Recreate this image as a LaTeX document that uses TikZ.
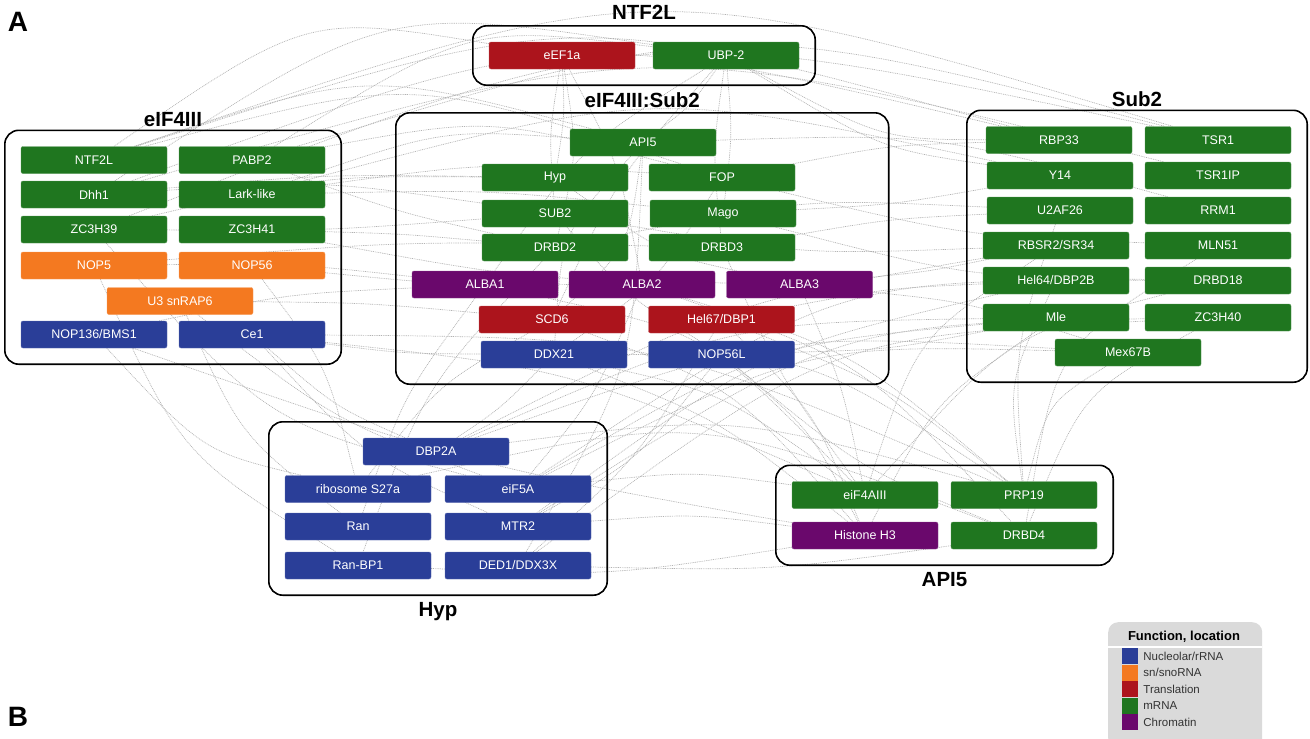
\documentclass[tikz,border=0pt]{standalone}
\usepackage{fontspec}
\setmainfont{Liberation Sans}
\usetikzlibrary{positioning,fit,calc}

\pgfdeclarelayer{background}
\pgfsetlayers{background,main}

\definecolor{cGreen}{RGB}{31,118,31}
\definecolor{cOrange}{RGB}{244,121,32}
\definecolor{cRed}{RGB}{172,20,28}
\definecolor{cBlue}{RGB}{42,62,152}
\definecolor{cPurple}{RGB}{106,8,108}
\definecolor{cEdge}{RGB}{178,178,178}
\definecolor{cLegend}{RGB}{218,218,218}

\begin{document}
\begin{tikzpicture}[x=1pt, y=-1pt,
    every node/.style={font=\fontsize{12.5}{14}\selectfont},
    prot/.style={rectangle, rounded corners=2pt, minimum width=146pt, minimum height=27pt,
      inner sep=0pt, text=white, fill=#1, draw=#1!75!white},
    grp/.style={draw, line width=1.6pt, rounded corners=14pt, inner sep=16pt},
    grptitle/.style={font=\bfseries\fontsize{20.5}{22}\selectfont, inner sep=0pt, text height=15pt, text depth=0pt},
    edge/.style={draw=cEdge, dash pattern=on 0.9pt off 0.9pt, line width=0.7pt},
    swatch/.style={rectangle, minimum size=16pt, inner sep=0pt, fill=#1},
    legtext/.style={font=\fontsize{11.5}{13}\selectfont, text=black!80, inner sep=0pt, anchor=west}]
  \useasboundingbox (0,0) rectangle (1310,739);

  % panel letters
  \node[font=\bfseries\fontsize{28}{30}\selectfont] (letA) at (18,22) {A};
  \node[font=\bfseries\fontsize{28}{30}\selectfont] (letB) at (18,717) {B};

  % NTF2L
  \node[prot=cRed] (eef1a) at (562,55.5) {eEF1a};
  \node[prot=cGreen] (ubp2) at (726,55.5) {UBP-2};

  % eIF4III:Sub2
  \node[prot=cGreen] (api5) at (643,142.5) {API5};
  \node[prot=cGreen] (hyp) at (555,177.5) {Hyp};
  \node[prot=cGreen] (fop) at (722,177.5) {FOP};
  \node[prot=cGreen] (sub2) at (555,213.5) {SUB2};
  \node[prot=cGreen] (mago) at (723,213.5) {Mago};
  \node[prot=cGreen] (drbd2) at (555,247.5) {DRBD2};
  \node[prot=cGreen] (drbd3) at (722,247.5) {DRBD3};
  \node[prot=cPurple] (alba1) at (485,284.5) {ALBA1};
  \node[prot=cPurple] (alba2) at (642,284.5) {ALBA2};
  \node[prot=cPurple] (alba3) at (799.5,284.5) {ALBA3};
  \node[prot=cRed] (scd6) at (552,319.5) {SCD6};
  \node[prot=cRed] (hel67) at (721.5,319.5) {Hel67/DBP1};
  \node[prot=cBlue] (ddx21) at (554,354.5) {DDX21};
  \node[prot=cBlue] (nop56l) at (721.5,354.5) {NOP56L};

  % eIF4III
  \node[prot=cGreen] (ntf2l) at (94,160) {NTF2L};
  \node[prot=cGreen] (pabp2) at (252,160) {PABP2};
  \node[prot=cGreen] (dhh1) at (94,194.5) {Dhh1};
  \node[prot=cGreen] (lark) at (252,194.5) {Lark-like};
  \node[prot=cGreen] (zc39) at (94,229.5) {ZC3H39};
  \node[prot=cGreen] (zc41) at (252,229.5) {ZC3H41};
  \node[prot=cOrange] (nop5) at (94,265.5) {NOP5};
  \node[prot=cOrange] (nop56) at (252,265.5) {NOP56};
  \node[prot=cOrange] (u3) at (180,301) {U3 snRAP6};
  \node[prot=cBlue] (nop136) at (94,334.5) {NOP136/BMS1};
  \node[prot=cBlue] (ce1) at (252,334.5) {Ce1};

  % Sub2
  \node[prot=cGreen] (rbp33) at (1059,140) {RBP33};
  \node[prot=cGreen] (tsr1) at (1218,140) {TSR1};
  \node[prot=cGreen] (y14) at (1060,175.5) {Y14};
  \node[prot=cGreen] (tsr1ip) at (1218,175.5) {TSR1IP};
  \node[prot=cGreen] (u2af26) at (1060,210.5) {U2AF26};
  \node[prot=cGreen] (rrm1) at (1218,210.5) {RRM1};
  \node[prot=cGreen] (rbsr2) at (1056,245.5) {RBSR2/SR34};
  \node[prot=cGreen] (mln51) at (1218,245.5) {MLN51};
  \node[prot=cGreen] (hel64) at (1056,280.5) {Hel64/DBP2B};
  \node[prot=cGreen] (drbd18) at (1218,280.5) {DRBD18};
  \node[prot=cGreen] (mle) at (1056,317.5) {Mle};
  \node[prot=cGreen] (zc40) at (1218,317.5) {ZC3H40};
  \node[prot=cGreen] (mex67b) at (1128,352.5) {Mex67B};

  % Hyp
  \node[prot=cBlue] (dbp2a) at (436,451.5) {DBP2A};
  \node[prot=cBlue] (s27a) at (358,489) {ribosome S27a};
  \node[prot=cBlue] (eif5a) at (518,489) {eiF5A};
  \node[prot=cBlue] (ran) at (358,526.5) {Ran};
  \node[prot=cBlue] (mtr2) at (518,526.5) {MTR2};
  \node[prot=cBlue] (ranbp1) at (358,565.5) {Ran-BP1};
  \node[prot=cBlue] (ded1) at (518,565.5) {DED1/DDX3X};

  % API5
  \node[prot=cGreen] (eif4a) at (865,495) {eiF4AIII};
  \node[prot=cGreen] (prp19) at (1024,495) {PRP19};
  \node[prot=cPurple] (h3) at (865,535.5) {Histone H3};
  \node[prot=cGreen] (drbd4) at (1024,535.5) {DRBD4};

  % group frames and titles
  \node[grp, fit=(eef1a)(ubp2)] (gNtf) {};
  \node[grptitle, above=5pt of gNtf] (tNtf) {NTF2L};
  \node[grp, fit=(api5)(alba1)(alba3)(ddx21)(nop56l)] (gMid) {};
  \node[grptitle, above=4pt of gMid] (tMid) {eIF4III:Sub2};
  \node[grp, fit=(ntf2l)(pabp2)(nop136)(ce1)] (gEif) {};
  \node[grptitle, above=3pt of gEif] (tEif) {eIF4III};
  \node[grp, fit=(rbp33)(tsr1)(rbsr2)(mex67b)(zc40)] (gSub) {};
  \node[grptitle, above=3pt of gSub] (tSub) {Sub2};
  \node[grp, fit=(dbp2a)(s27a)(ded1)(ranbp1)] (gHyp) {};
  \node[grptitle, below=5pt of gHyp] (tHyp) {Hyp};
  \node[grp, fit=(eif4a)(prp19)(h3)(drbd4)] (gApi) {};
  \node[grptitle, below=5pt of gApi] (tApi) {API5};

  % interaction edges (factor > 0 bows upward for left-to-right pairs)
  \begin{pgfonlayer}{background}
    \foreach \a/\b/\c in {ntf2l/rbp33/0.3, pabp2/tsr1/0.28, ntf2l/tsr1/0.32, dhh1/tsr1ip/0.27,
        lark/y14/0.24, pabp2/ubp2/0.35, ntf2l/eef1a/0.4, dhh1/ubp2/0.38, ntf2l/api5/0.3,
        pabp2/fop/0.22, lark/api5/0.2, dhh1/rbp33/0.3, zc39/tsr1/0.3, ntf2l/fop/0.3,
        dhh1/hyp/0.05, zc39/sub2/-0.04, zc41/drbd2/0.03, lark/mago/0.06, nop5/drbd3/0.05,
        nop56/alba2/-0.05, u3/scd6/0.04, ce1/ddx21/-0.06, nop136/alba1/0.08, zc41/alba3/-0.08,
        pabp2/drbd2/-0.06, dhh1/sub2/0.1, zc39/hyp/0.12, nop5/alba1/0.06, lark/fop/0.1,
        nop136/s27a/-0.3, ce1/dbp2a/-0.15, u3/ran/-0.25, ce1/mtr2/-0.2, nop5/ranbp1/-0.3,
        zc39/eif5a/-0.3, nop56/s27a/0.2, u3/eif5a/-0.15,
        api5/scd6/0.35, hyp/alba3/-0.2, fop/ddx21/0.2, sub2/nop56l/-0.15, api5/ddx21/-0.35,
        eef1a/hyp/0.1, eef1a/sub2/-0.12, ubp2/mago/0.1, ubp2/drbd3/-0.12, eef1a/alba2/0.15,
        ubp2/alba1/-0.2, ubp2/api5/0.15, eef1a/drbd2/0.2, ubp2/scd6/-0.15,
        fop/rbp33/0.08, mago/y14/-0.06, drbd3/u2af26/0.06, alba3/rbsr2/-0.05, hel67/hel64/0.07,
        nop56l/mle/-0.08, api5/rrm1/0.15, fop/mln51/-0.1, alba3/mex67b/0.1, mago/drbd18/-0.12,
        ubp2/rbp33/-0.25, ubp2/y14/-0.2, drbd2/u2af26/0.12, sub2/rbsr2/-0.1,
        rbsr2/eif4a/-0.35, hel64/prp19/-0.3, mle/h3/-0.25, mex67b/prp19/-0.4, zc40/drbd4/-0.35,
        drbd18/eif4a/-0.3, mln51/drbd4/-0.45, u2af26/prp19/-0.2,
        alba3/eif4a/0.1, nop56l/h3/0.2, hel67/prp19/0.15, ddx21/eif4a/0.2, alba2/drbd4/0.25,
        ddx21/dbp2a/0.1, scd6/s27a/-0.2, alba1/ran/-0.15, alba2/eif5a/0.15, nop56l/mtr2/0.2,
        hel67/ded1/0.15, drbd2/ranbp1/-0.2, api5/ded1/0.25,
        eif5a/eif4a/0.12, mtr2/h3/0.1, ded1/drbd4/-0.08, dbp2a/prp19/0.2, ranbp1/h3/-0.1,
        dbp2a/mex67b/0.2, eif5a/mle/0.22, mtr2/zc40/0.28, s27a/drbd4/0.3,
        ce1/eif4a/0.15, nop136/h3/-0.08, ce1/prp19/0.2,
        ddx21/prp19/0.3, scd6/h3/0.25, alba1/eif4a/0.3, mle/dbp2a/-0.2, mex67b/eif5a/-0.25,
        hel64/mtr2/-0.2, zc40/ded1/-0.3, nop56l/drbd4/-0.15, hel67/h3/0.2, drbd3/eif4a/-0.1,
        alba2/prp19/0.2, ddx21/h3/0.15, rbsr2/dbp2a/-0.15, drbd18/eif5a/-0.3}
      {
      \coordinate (mid) at ($(\a)!0.5!(\b)$);
      \draw[edge] (\a) .. controls ($(mid)!\c!90:(\b)$) .. (\b);
    }
  \end{pgfonlayer}

  % legend
  \node[rectangle, rounded corners=10pt, fill=cLegend, minimum width=154pt, minimum height=126pt,
    anchor=north west, inner sep=0pt] (leg) at (1108,622) {};
  \node[font=\bfseries\fontsize{13}{14}\selectfont, inner sep=0pt] (legTitle) at (1184,637) {Function, location};
  \draw[white, line width=1.2pt] ([yshift=-4pt]leg.west |- legTitle.south) -- ([yshift=-4pt]leg.east |- legTitle.south);
  \foreach \c/\t [count=\i] in {cBlue/{Nucleolar/rRNA}, cOrange/{sn/snoRNA}, cRed/Translation,
      cGreen/mRNA, cPurple/Chromatin} {
    \node[swatch=\c] (sw\i) at (1130,639.5+16.5*\i) {};
    \node[legtext, right=5pt of sw\i] (lt\i) {\t};
  }
\end{tikzpicture}
\end{document}
